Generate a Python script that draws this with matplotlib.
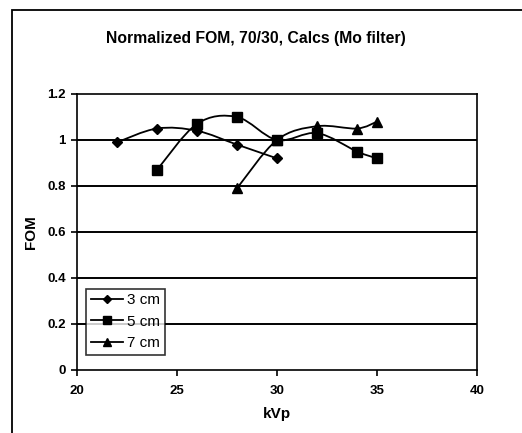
import numpy as np
import matplotlib.pyplot as plt
from matplotlib.path import Path
from matplotlib.patches import PathPatch, Rectangle
from matplotlib.lines import Line2D

plt.rcParams['font.family'] = ['Liberation Sans', 'DejaVu Sans']
plt.rcParams['font.weight'] = 'bold'

kvp_3cm = [22, 24, 26, 28, 30]
fom_3cm = [0.99, 1.05, 1.04, 0.98, 0.92]

kvp_5cm = [24, 26, 28, 30, 32, 34, 35]
fom_5cm = [0.87, 1.07, 1.10, 1.00, 1.03, 0.95, 0.92]

kvp_7cm = [28, 30, 32, 34, 35]
fom_7cm = [0.79, 1.00, 1.06, 1.05, 1.08]

series = [
    ('3 cm', kvp_3cm, fom_3cm, 'D', 5.5),
    ('5 cm', kvp_5cm, fom_5cm, 's', 6.5),
    ('7 cm', kvp_7cm, fom_7cm, '^', 7),
]


def smooth_path(x, y):
    # Catmull-Rom style smoothing, written as cubic bezier segments
    pts = np.column_stack([x, y]).astype(float)
    n = len(pts)
    verts = [pts[0]]
    codes = [Path.MOVETO]
    for i in range(n - 1):
        p0 = pts[i - 1] if i > 0 else pts[i]
        p1 = pts[i]
        p2 = pts[i + 1]
        p3 = pts[i + 2] if i + 2 < n else pts[i + 1]
        c1 = p1 + (p2 - p0) / 6.0
        c2 = p2 - (p3 - p1) / 6.0
        verts += [c1, c2, p2]
        codes += [Path.CURVE4] * 3
    return Path(verts, codes)


fig = plt.figure(figsize=(5.22, 4.33), dpi=100)

# outer chart frame
fig.patches.append(Rectangle((12 / 522, -0.1), 1.2, (433 - 10) / 433 + 0.1,
                             transform=fig.transFigure, fill=False,
                             edgecolor='black', linewidth=1.3))

ax = fig.add_axes([77 / 522, 63 / 433, 400 / 522, 276 / 433])

for yv in [0.2, 0.4, 0.6, 0.8, 1.0]:
    ax.axhline(yv, color='black', linewidth=1.4, zorder=1)

handles = []
for name, x, y, mk, ms in series:
    ax.add_patch(PathPatch(smooth_path(x, y), facecolor='none',
                           edgecolor='black', linewidth=1.3, zorder=3))
    ax.plot(x, y, linestyle='none', marker=mk, markersize=ms,
            color='black', zorder=4)
    handles.append(Line2D([], [], color='black', linewidth=1.3,
                          marker=mk, markersize=ms - 1, label=name))

ax.set_xlim(20, 40)
ax.set_ylim(0, 1.2)
ax.set_xticks([20, 25, 30, 35, 40])
ax.set_yticks([0, 0.2, 0.4, 0.6, 0.8, 1, 1.2])
ax.set_yticklabels(['0', '0.2', '0.4', '0.6', '0.8', '1', '1.2'])
ax.tick_params(axis='both', labelsize=9.5, length=4, width=1.2,
               direction='out', pad=4)
ax.tick_params(axis='x', pad=7)
for s in ax.spines.values():
    s.set_linewidth(1.2)

ax.set_xlabel('kVp', fontsize=11, fontweight='bold', labelpad=7)
ax.set_ylabel('FOM', fontsize=11, fontweight='bold', labelpad=7)

fig.text(256 / 522, 1 - 38 / 433, 'Normalized FOM, 70/30, Calcs (Mo filter)',
         ha='center', va='center', fontsize=11.3, fontweight='bold')

leg = ax.legend(handles=handles, loc='lower left',
                bbox_to_anchor=(9 / 400, 15 / 276), fontsize=11,
                frameon=True, fancybox=False, edgecolor='black',
                handlelength=2.1, borderpad=0.3, labelspacing=0.5,
                handletextpad=0.3, borderaxespad=0)
leg.get_frame().set_linewidth(1.2)
for t in leg.get_texts():
    t.set_fontweight('normal')

fig.savefig('out.png', dpi=100)
